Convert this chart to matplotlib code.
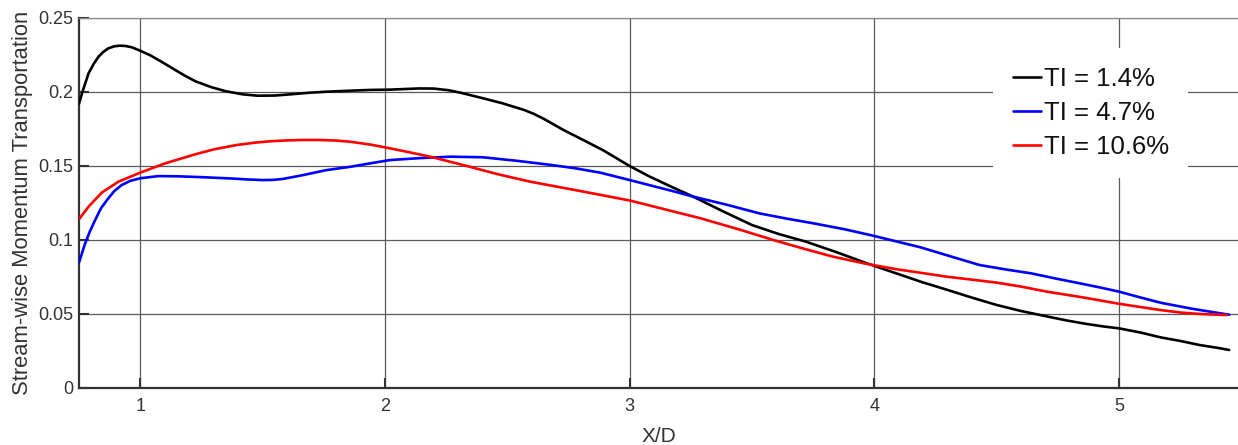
import matplotlib
matplotlib.use("Agg")
import matplotlib.pyplot as plt

plt.rcParams['font.family'] = ['Liberation Sans', 'DejaVu Sans']

# ---- data ----
x_ti14 = [0.75, 0.762, 0.789, 0.81, 0.83, 0.85, 0.87, 0.895, 0.918, 0.94, 0.966, 1.0, 1.04,
          1.075, 1.11, 1.143, 1.185, 1.225, 1.29, 1.35, 1.42, 1.48, 1.55, 1.62, 1.69, 1.76,
          1.86, 1.94, 2.02, 2.14, 2.20, 2.26, 2.31, 2.40, 2.48, 2.57, 2.61, 2.65, 2.73, 2.81,
          2.89, 3.00, 3.08, 3.17, 3.26, 3.38, 3.50, 3.61, 3.72, 3.85, 3.97, 4.08, 4.19, 4.30,
          4.40, 4.50, 4.60, 4.71, 4.79, 4.87, 4.94, 5.00, 5.09, 5.17, 5.25, 5.33, 5.40, 5.45]
y_ti14 = [0.192, 0.199, 0.2126, 0.219, 0.2239, 0.2272, 0.2295, 0.2309, 0.2313, 0.2311, 0.2302,
          0.2279, 0.2249, 0.2216, 0.2182, 0.2149, 0.2108, 0.2073, 0.2033, 0.2005, 0.1984, 0.1975,
          0.1976, 0.1985, 0.1995, 0.2002, 0.2009, 0.2014, 0.2016, 0.2024, 0.2023, 0.2012, 0.1995,
          0.1958, 0.1924, 0.1878, 0.1851, 0.1818, 0.1743, 0.1676, 0.1608, 0.150, 0.143, 0.136,
          0.1293, 0.1195, 0.1101, 0.104, 0.0989, 0.0915, 0.0842, 0.078, 0.0718, 0.0662, 0.061,
          0.0561, 0.052, 0.0482, 0.0455, 0.0432, 0.0415, 0.0403, 0.0374, 0.0342, 0.0318, 0.029,
          0.0272, 0.0257]

x_ti47 = [0.75, 0.775, 0.795, 0.816, 0.84, 0.87, 0.895, 0.925, 0.96, 1.0, 1.075, 1.16, 1.26,
          1.38, 1.44, 1.50, 1.54, 1.58, 1.62, 1.67, 1.76, 1.86, 1.94, 2.02, 2.14, 2.27, 2.40,
          2.54, 2.68, 2.78, 2.88, 3.00, 3.17, 3.26, 3.40, 3.53, 3.64, 3.75, 3.88, 4.00, 4.19,
          4.30, 4.43, 4.54, 4.64, 4.74, 4.84, 4.92, 5.00, 5.08, 5.17, 5.30, 5.45]
y_ti47 = [0.0847, 0.0977, 0.106, 0.1135, 0.1215, 0.1282, 0.1332, 0.1372, 0.1400, 0.1417, 0.1432,
          0.1430, 0.1424, 0.1415, 0.1409, 0.1405, 0.1406, 0.1412, 0.1424, 0.144, 0.1472, 0.1495,
          0.1518, 0.154, 0.1553, 0.1563, 0.1559, 0.1535, 0.1507, 0.1484, 0.1455, 0.1405, 0.1333,
          0.1293, 0.1237, 0.118, 0.1145, 0.1113, 0.1072, 0.1027, 0.095, 0.0895, 0.0831, 0.080,
          0.0775, 0.074, 0.0707, 0.068, 0.0651, 0.0615, 0.0576, 0.0535, 0.0495]

x_ti106 = [0.75, 0.789, 0.843, 0.911, 1.0, 1.102, 1.225, 1.30, 1.395, 1.47, 1.53, 1.60, 1.667,
           1.73, 1.80, 1.858, 1.94, 2.001, 2.09, 2.185, 2.335, 2.46, 2.594, 2.811, 3.003, 3.166,
           3.289, 3.44, 3.587, 3.71, 3.832, 3.97, 4.10, 4.187, 4.296, 4.40, 4.50, 4.60, 4.705,
           4.86, 5.004, 5.168, 5.25, 5.331, 5.44]
y_ti106 = [0.114, 0.1225, 0.132, 0.1394, 0.1455, 0.1518, 0.1579, 0.1612, 0.1642, 0.1658, 0.1667,
           0.1673, 0.1676, 0.1676, 0.1672, 0.1664, 0.1645, 0.1626, 0.1596, 0.1563, 0.150, 0.1445,
           0.1394, 0.1327, 0.1266, 0.1198, 0.1147, 0.1075, 0.100, 0.0942, 0.0887, 0.0838, 0.080,
           0.0779, 0.0752, 0.0732, 0.0712, 0.0685, 0.0651, 0.061, 0.0568, 0.0527, 0.051, 0.050,
           0.0493]

labels = ['TI = 1.4%', 'TI = 4.7%', 'TI = 10.6%']
colors = ['#000000', '#0000ff', '#ff0000']
x_ticks = [1, 2, 3, 4, 5]
y_ticks = [0, 0.05, 0.1, 0.15, 0.2, 0.25]
y_ticklabels = ['0', '0.05', '0.1', '0.15', '0.2', '0.25']

W, H = 1238, 445
fig = plt.figure(figsize=(W / 100, H / 100), dpi=100)
ax = fig.add_axes([79 / W, 1 - 388 / H, (W - 79) / W, (388 - 18) / H])

series = [(x_ti14, y_ti14), (x_ti47, y_ti47), (x_ti106, y_ti106)]
for (xs, ys), lab, c in zip(series, labels, colors):
    ax.plot(xs, ys, color=c, lw=1.9, label=lab, zorder=3,
            solid_joinstyle='round', solid_capstyle='round')

ax.set_xlim(0.75, 5.486)
ax.set_ylim(0, 0.25)
ax.set_xticks(x_ticks)
ax.set_yticks(y_ticks)
ax.set_yticklabels(y_ticklabels)

txt = '#333333'
ax.grid(True, color='#5a5a5a', lw=0.9, zorder=1)
ax.set_axisbelow(True)
for s in ['left', 'bottom']:
    ax.spines[s].set_color('#333333')
    ax.spines[s].set_linewidth(1.6)
ax.spines['right'].set_visible(False)
ax.spines['top'].set_color('#8a8a8a')
ax.spines['top'].set_linewidth(0.9)

ax.tick_params(axis='both', direction='in', length=7, width=1.5, color='#333333',
               labelsize=13, labelcolor=txt, top=False, right=False)
ax.tick_params(axis='y', pad=4.0)
ax.tick_params(axis='x', pad=7.5)

ax.set_xlabel('X/D', fontsize=15, color=txt, labelpad=8)
ax.set_ylabel('Stream-wise Momentum Transportation', fontsize=15.8, color=txt, labelpad=4)

leg = ax.legend(loc='upper left', bbox_to_anchor=(0.789, 0.919), fontsize=18.5,
                frameon=True, fancybox=False, framealpha=1, borderpad=0.75,
                handlelength=1.1, handletextpad=0.1, labelspacing=0.38, borderaxespad=0)
leg.get_frame().set_facecolor('white')
leg.get_frame().set_edgecolor('none')
for t in leg.get_texts():
    t.set_color('#111111')

fig.savefig('out.png', dpi=100)
